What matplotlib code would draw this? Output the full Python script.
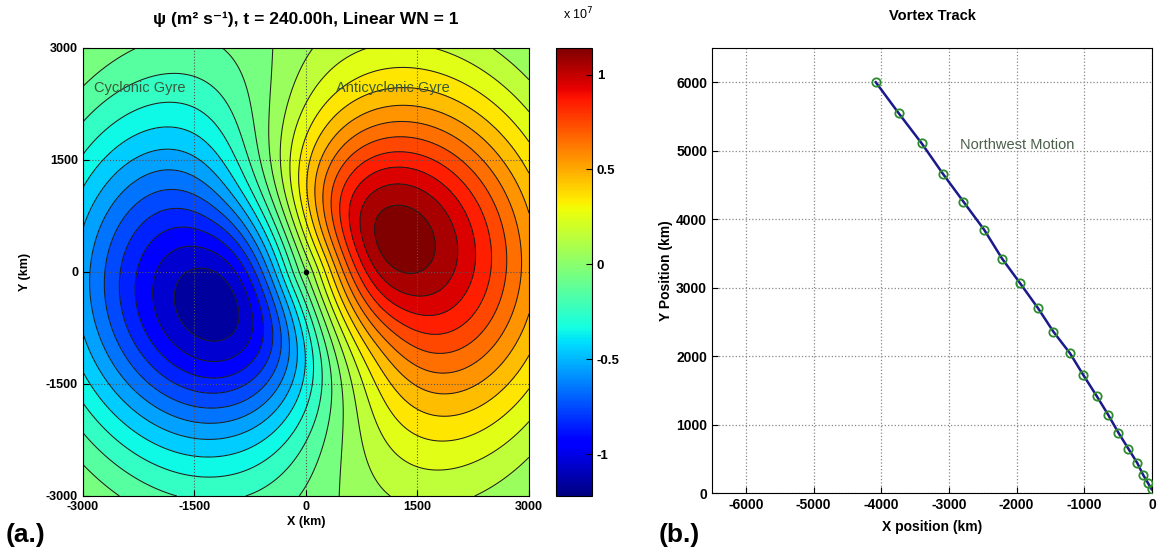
import numpy as np
import matplotlib
matplotlib.use('Agg')
import matplotlib.pyplot as plt
from matplotlib.colors import Normalize
from matplotlib.cm import ScalarMappable

plt.rcParams['font.family'] = ['Liberation Sans', 'DejaVu Sans']
plt.rcParams['axes.unicode_minus'] = False

# ── (a) wavenumber-1 streamfunction, gyre parameters ────
DOMAIN = [-3000, 3000]                  # km
AMP_POS = 1.18e7                        # anticyclonic gyre max (m2/s)
AMP_NEG = 1.19e7                        # cyclonic gyre min magnitude
R_MAX = 1400.0                          # radius of gyre centres (km)
INNER_POLY = [1.3, 1.5, -2.9, 1.1]      # radial profile inside R_MAX
P_OUTER = 1.2                           # decay exponent outside R_MAX
R_TAPER = 4300.0                        # outer taper radius (km)
PHI_DEG = [21.0, 5.0]                   # dipole axis angle: centre, far field
R_PHI = 2200.0                          # radius where the axis turns back
CB_RANGE = [-1.22e7, 1.14e7]
CB_TICKS = [-1e7, -0.5e7, 0, 0.5e7, 1e7]
CB_TICKLABELS = ['-1', '-0.5', '0', '0.5', '1']
AX_TICKS = [-3000, -1500, 0, 1500, 3000]

# ── (b) vortex track ─────────────────────────────────────────────────────────
track_x = [-4080, -3740, -3400, -3090, -2785, -2475, -2215, -1945, -1680,
           -1455, -1210, -1015, -815, -645, -495, -350, -215, -130, -55, -5]
track_y = [6000, 5545, 5105, 4665, 4255, 3840, 3425, 3060, 2695,
           2355, 2040, 1725, 1415, 1140, 880, 650, 435, 265, 140, 55]

fig = plt.figure(figsize=(11.59, 5.54), dpi=100)
fig.patch.set_facecolor('white')

# ---------------------------------------------------------------- left panel
ax1 = fig.add_axes([0.0716, 0.1047, 0.3848, 0.8087])
xs = np.linspace(DOMAIN[0], DOMAIN[1], 401)
X, Y = np.meshgrid(xs, xs)
r = np.hypot(X, Y)
th = np.arctan2(Y, X)
s = r / R_MAX
a1, a2, a3, a4 = INNER_POLY
f_in = a1 * s + a2 * s**2 + a3 * s**3 + a4 * s**4
f_out = s * np.exp((1 - s**P_OUTER) / P_OUTER)
F = np.where(s < 1, f_in, f_out) * np.clip(1 - (r / R_TAPER)**4, 0, None)
phi = np.deg2rad(PHI_DEG[1] + (PHI_DEG[0] - PHI_DEG[1]) / (1 + (r / R_PHI)**4))
c = np.cos(th - phi)
psi = F * c * np.where(c > 0, AMP_POS, AMP_NEG)

norm = Normalize(vmin=CB_RANGE[0], vmax=CB_RANGE[1])
levels = np.arange(-13, 13) * 1e6
ax1.contourf(X, Y, psi, levels=levels, cmap='jet', norm=norm)
ax1.contour(X, Y, psi, levels=levels, colors='#1e1e1e', linewidths=0.75,
            linestyles='solid')
ax1.plot([0], [0], 'o', color='black', ms=3)
ax1.set_xlim(DOMAIN)
ax1.set_ylim(DOMAIN)
ax1.set_xticks(AX_TICKS)
ax1.set_yticks(AX_TICKS)
ax1.grid(True, linestyle=':', color='#555555', lw=0.8)
ax1.tick_params(direction='in', labelsize=9, length=4)
for t in ax1.get_xticklabels() + ax1.get_yticklabels():
    t.set_fontweight('bold')
ax1.set_xlabel('X (km)', fontsize=9, fontweight='bold', labelpad=2)
ax1.set_ylabel('Y (km)', fontsize=9, fontweight='bold', labelpad=11)
ax1.set_title('ψ (m² s⁻¹), t = 240.00h, Linear WN = 1', fontsize=12.5,
              fontweight='bold', pad=17)
ax1.text(-2850, 2460, 'Cyclonic Gyre', fontsize=10.5, color='#3b5a3b',
         va='center', ha='left')
ax1.text(400, 2460, 'Anticyclonic Gyre', fontsize=10.5, color='#3b5a3b',
         va='center', ha='left')

cax = fig.add_axes([0.4797, 0.1047, 0.0311, 0.8087])
cb = fig.colorbar(ScalarMappable(norm=norm, cmap='jet'), cax=cax)
cb.set_ticks(CB_TICKS)
cb.set_ticklabels(CB_TICKLABELS)
cb.outline.set_linewidth(0.8)
cax.tick_params(labelsize=9.5, direction='in', length=4)
for t in cax.get_yticklabels():
    t.set_fontweight('bold')
fig.text(0.486, 0.975, 'x 10$^{7}$', fontsize=9, ha='left', va='center')

fig.text(0.005, 0.035, '(a.)', fontsize=19, fontweight='bold', va='center')

# --------------------------------------------------------------- right panel
ax2 = fig.add_axes([0.6143, 0.1101, 0.3796, 0.8033])
ax2.plot(track_x, track_y, '-', color='#1a1a8c', lw=1.8, zorder=3)
ax2.plot(track_x, track_y, 'o', mfc='none', mec='#2e8b2e', ms=6, mew=1.3,
         zorder=4)
ax2.set_xlim(-6500, 0)
ax2.set_ylim(0, 6500)
ax2.set_xticks(range(-6000, 1, 1000))
ax2.set_yticks(range(0, 6001, 1000))
ax2.grid(True, linestyle=':', color='#888888', lw=0.9)
ax2.tick_params(direction='in', labelsize=10, length=4)
for t in ax2.get_xticklabels() + ax2.get_yticklabels():
    t.set_fontweight('bold')
ax2.set_xlabel('X position (km)', fontsize=10, fontweight='bold', labelpad=6)
ax2.set_ylabel('Y Position (km)', fontsize=10, fontweight='bold', labelpad=2)
ax2.set_title('Vortex Track', fontsize=10.5, fontweight='bold', pad=20)
ax2.text(-2830, 5080, 'Northwest Motion', fontsize=10.5, color='#4a5f4a',
         va='center', ha='left')

fig.text(0.568, 0.035, '(b.)', fontsize=19, fontweight='bold', va='center')

fig.savefig('out.png', dpi=100, facecolor='white')
